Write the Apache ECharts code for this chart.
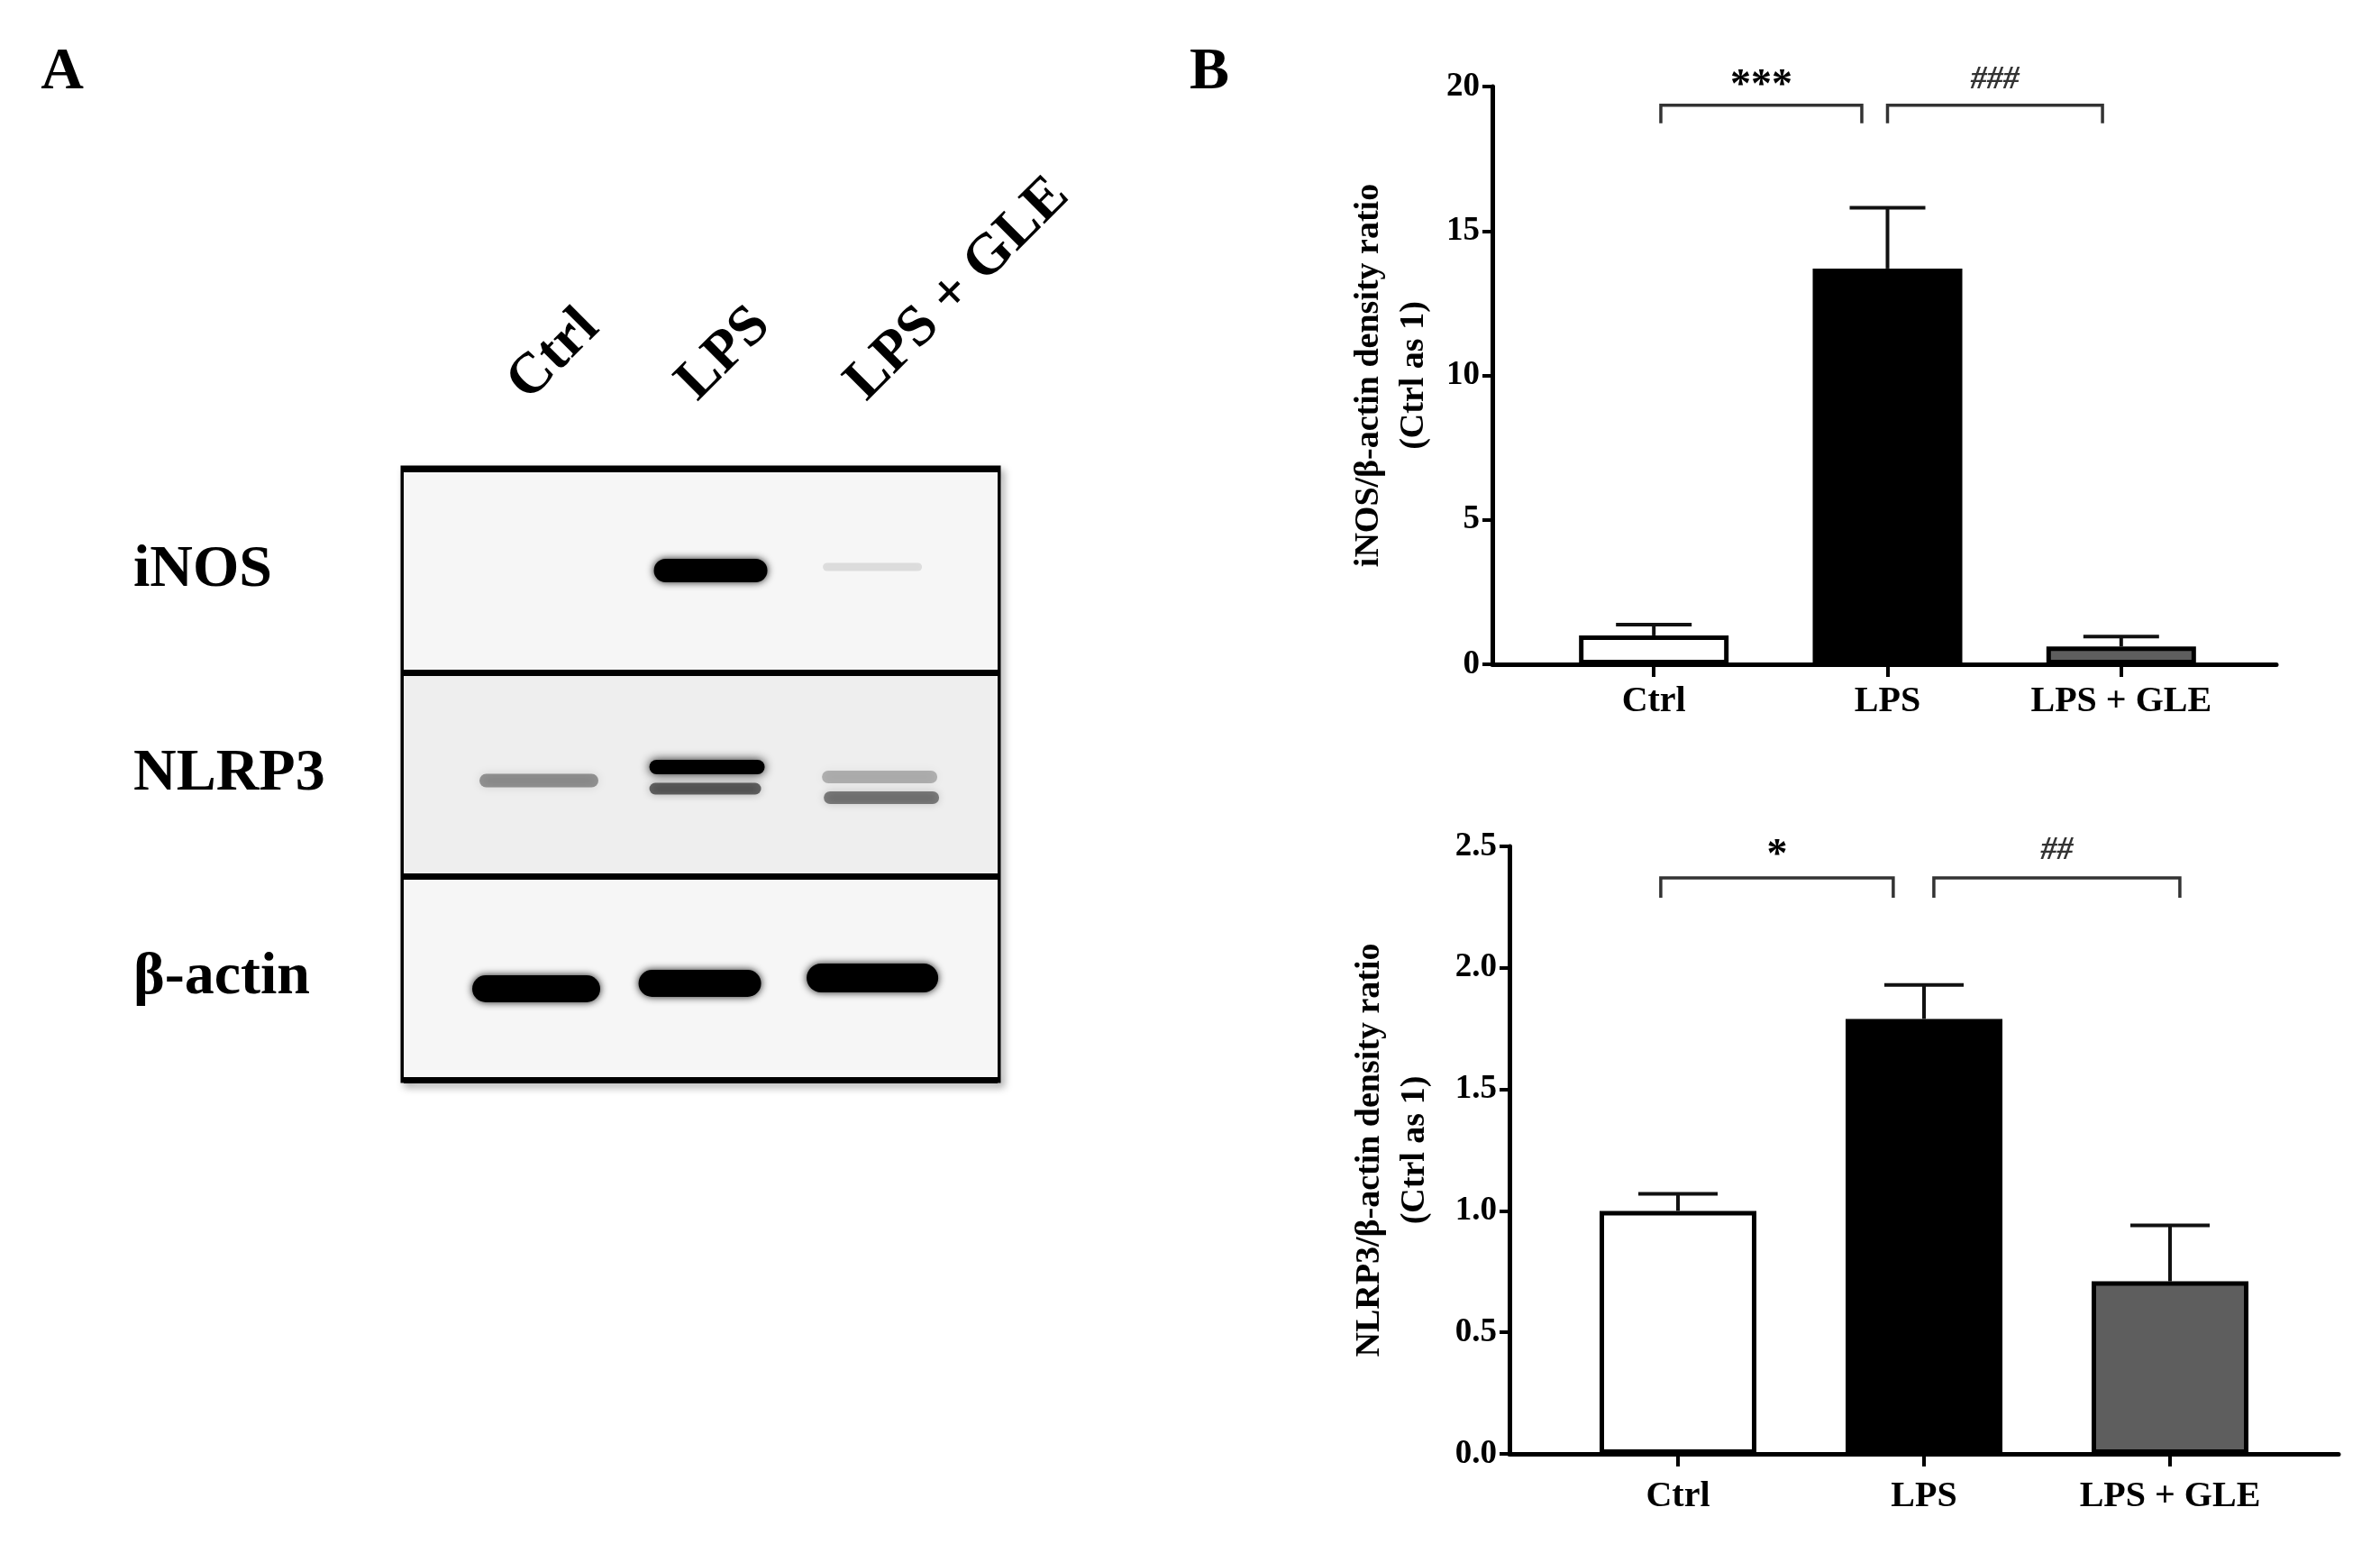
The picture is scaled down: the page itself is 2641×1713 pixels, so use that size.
<!DOCTYPE html>
<html><head><meta charset="utf-8">
<script src="https://cdn.jsdelivr.net/npm/echarts@6/dist/echarts.min.js"></script>
<style>html,body{margin:0;padding:0;background:#fff}#c{width:2641px;height:1713px}</style>
</head><body><div id="c"></div>
<script>
// ---------- DATA ----------
const groups = ['Ctrl', 'LPS', 'LPS + GLE'];
const groupPos = [1, 2, 3];
const inosMean = [1.0, 13.7, 0.62];
const inosSem = [0.37, 2.1, 0.34];
const nlrp3Mean = [1.0, 1.79, 0.71];
const nlrp3Sem = [0.07, 0.14, 0.23];
const inosTicks = [0, 5, 10, 15, 20];
const nlrp3Ticks = [0, 0.5, 1.0, 1.5, 2.0, 2.5];
// comparisons: [groupA index, groupB index, label]
const inosComparisons = [[0, 1, '***'], [1, 2, '###']];
const nlrp3Comparisons = [[0, 1, '*'], [1, 2, '##']];
// western blot
const proteins = ['iNOS', 'NLRP3', 'β-actin'];
const iNOSDensity = [0, 1.0, 0.1];
const nlrp3UpperDensity = [0.36, 1.0, 0.25];
const nlrp3LowerDensity = [0, 0.55, 0.45];
const actinDensity = [1.0, 1.0, 1.0];

// ---------- STYLE ----------
const FONT = '"Liberation Serif", "Times New Roman", serif';
const barColors = ['#ffffff', '#000000', '#5e5e5e'];
const bracketStyle = [
  { y: 19.35, insets: [[0.03, -0.11], [0.0, -0.08]], drop: 20 },
  { y: 2.37, insets: [[-0.07, -0.125], [0.04, 0.04]], drop: 22 }
];
const bandStyle = [
  { row: 0, w: [126, 126, 110], h: [26, 26, 9], dy: [0, 0, -4], dx: [0, 6, -2], blur: 8 },
  { row: 1, w: [132, 128, 128], h: [15, 16, 14], dy: [7, -8, 3], dx: [3, 2, 6], blur: 11 },
  { row: 1, w: [124, 124, 128], h: [13, 13, 14], dy: [0, 16, 26], dx: [0, 0, 8], blur: 10 },
  { row: 2, w: [142, 136, 146], h: [30, 30, 32], dy: [12, 6, 0], dx: [0, -6, -2], blur: 8 }
];
const densities = [iNOSDensity, nlrp3UpperDensity, nlrp3LowerDensity, actinDensity];

const chart = echarts.init(document.getElementById('c'), null, { renderer: 'canvas' });

function valueXAxis(gridIndex, min, max, margin) {
  return {
    type: 'value', gridIndex, min, max,
    axisLine: { show: true, onZero: false, lineStyle: { color: '#000', width: 5 } },
    axisTick: { show: true, customValues: groupPos, length: 14, lineStyle: { color: '#000', width: 4 } },
    axisLabel: { customValues: groupPos, formatter: v => groups[Math.round(v) - 1], margin,
      fontFamily: FONT, fontWeight: 'bold', fontSize: 40, color: '#000' },
    splitLine: { show: false }
  };
}
function valueYAxis(gridIndex, ticks, name, nameGap, fmt) {
  return {
    type: 'value', gridIndex, min: ticks[0], max: ticks[ticks.length - 1], interval: ticks[1] - ticks[0],
    axisLine: { show: true, lineStyle: { color: '#000', width: 5 } },
    axisTick: { show: true, length: 11, lineStyle: { color: '#000', width: 4 } },
    axisLabel: { margin: 14, fontFamily: FONT, fontWeight: 'bold', fontSize: 37, color: '#000', formatter: fmt },
    splitLine: { show: false },
    name, nameLocation: 'middle', nameRotate: 90, nameGap,
    nameTextStyle: { fontFamily: FONT, fontWeight: 'bold', fontSize: 38, lineHeight: 50, color: '#000' }
  };
}
function barSeries(idx, means, barWidth) {
  return {
    type: 'bar', xAxisIndex: idx, yAxisIndex: idx, barWidth, z: 2,
    data: groupPos.map((x, i) => ({ value: [x, means[i]], itemStyle: { color: barColors[i] } })),
    itemStyle: { borderColor: '#000', borderWidth: 5 }
  };
}
function errSeries(idx, means, sems, capHalf) {
  return {
    type: 'custom', xAxisIndex: idx, yAxisIndex: idx, z: 3,
    data: groupPos.map((x, i) => [x, means[i], sems[i]]),
    encode: { x: 0, y: 1 },
    renderItem: (params, api) => {
      const x = api.value(0), m = api.value(1), e = api.value(2);
      const p0 = api.coord([x, m]), p1 = api.coord([x, m + e]);
      return { type: 'group', children: [
        { type: 'line', shape: { x1: p0[0], y1: p0[1], x2: p1[0], y2: p1[1] }, style: { stroke: '#111', lineWidth: 4 } },
        { type: 'line', shape: { x1: p1[0] - capHalf, y1: p1[1], x2: p1[0] + capHalf, y2: p1[1] }, style: { stroke: '#111', lineWidth: 4 } }
      ] };
    }
  };
}
function bracketSeries(idx, comps, st, fonts) {
  return {
    type: 'custom', xAxisIndex: idx, yAxisIndex: idx, z: 4, clip: false,
    data: comps.map(c => [groupPos[c[0]], groupPos[c[1]]]),
    renderItem: (params, api) => {
      const k = params.dataIndex, c = comps[k];
      const x1 = api.value(0) + st.insets[k][0], x2 = api.value(1) + st.insets[k][1];
      const a = api.coord([x1, st.y]), b = api.coord([x2, st.y]);
      const f = fonts[k];
      return { type: 'group', children: [
        { type: 'polyline', shape: { points: [[a[0], a[1] + st.drop], a, b, [b[0], b[1] + st.drop]] },
          style: { stroke: '#333', lineWidth: 3.5, fill: null } },
        { type: 'text', x: (a[0] + b[0]) / 2, y: a[1] - f.off,
          style: { text: c[2], font: f.font, fill: f.color, textAlign: 'center', textVerticalAlign: 'middle' } }
      ] };
    }
  };
}

const bandData = [];
densities.forEach((arr, t) => arr.forEach((d, i) => { if (d > 0) bandData.push([groupPos[i], bandStyle[t].row, d, t, i]); }));

const option = {
  backgroundColor: '#ffffff',
  animation: false,
  grid: [
    { left: 1656, top: 96, width: 870, height: 641 },
    { left: 1675, top: 939, width: 920, height: 674 },
    { left: 448, top: 520, width: 659, height: 678, show: true, borderColor: '#000', borderWidth: 7,
      backgroundColor: 'transparent', shadowBlur: 8, shadowColor: 'rgba(0,0,0,0.35)', shadowOffsetX: 4, shadowOffsetY: 5 }
  ],
  xAxis: [
    valueXAxis(0, 0.309, 3.664, 22),
    valueXAxis(1, 0.315, 3.685, 28),
    { type: 'value', gridIndex: 2, min: 0.216, max: 3.73, show: false }
  ],
  yAxis: [
    valueYAxis(0, inosTicks, 'iNOS/β-actin density ratio\n(Ctrl as 1)', 62, v => String(v)),
    valueYAxis(1, nlrp3Ticks, 'NLRP3/β-actin density ratio\n(Ctrl as 1)', 80, v => v.toFixed(1)),
    { type: 'category', gridIndex: 2, data: proteins, inverse: true,
      axisLine: { show: false }, axisTick: { show: false },
      axisLabel: { align: 'left', margin: 300, fontFamily: FONT, fontWeight: 'bold', fontSize: 66, color: '#000' },
      splitLine: { show: true, lineStyle: { color: '#000', width: 7 } },
      splitArea: { show: true, areaStyle: { color: ['#f6f6f6', '#eeeeee'] } } }
  ],
  graphic: [
    { type: 'text', x: 69, y: 81, style: { text: 'A', font: 'bold 66px ' + FONT, fill: '#000', textAlign: 'center', textVerticalAlign: 'middle' } },
    { type: 'text', x: 1342, y: 81, style: { text: 'B', font: 'bold 66px ' + FONT, fill: '#000', textAlign: 'center', textVerticalAlign: 'middle' } }
  ],
  series: [
    barSeries(0, inosMean, 166),
    errSeries(0, inosMean, inosSem, 42),
    bracketSeries(0, inosComparisons, bracketStyle[0], [
      { font: 'bold 46px ' + FONT, off: 21, color: '#000' },
      { font: 'italic bold 36px ' + FONT, off: 28, color: '#333' }]),
    barSeries(1, nlrp3Mean, 174),
    errSeries(1, nlrp3Mean, nlrp3Sem, 44),
    bracketSeries(1, nlrp3Comparisons, bracketStyle[1], [
      { font: 'bold 46px ' + FONT, off: 24, color: '#000' },
      { font: 'italic bold 36px ' + FONT, off: 30, color: '#333' }]),
    { // western blot bands
      type: 'custom', xAxisIndex: 2, yAxisIndex: 2, z: 5,
      data: bandData,
      renderItem: (params, api) => {
        const lane = api.value(0), row = api.value(1), d = api.value(2), t = api.value(3), i = api.value(4);
        const s = bandStyle[t];
        const c = api.coord([lane, row]);
        const w = s.w[i], h = s.h[i];
        const cx = c[0] + s.dx[i], cy = c[1] + s.dy[i];
        return { type: 'rect', shape: { x: cx - w / 2, y: cy - h / 2, width: w, height: h, r: h / 2 },
          style: { fill: 'rgba(0,0,0,' + d + ')', shadowBlur: s.blur, shadowColor: 'rgba(0,0,0,' + d * 0.9 + ')' } };
      }
    },
    { // lane labels
      type: 'custom', xAxisIndex: 2, yAxisIndex: 2, z: 5, clip: false,
      data: groupPos.map(x => [x, 0]),
      renderItem: (params, api) => {
        const c = api.coord([api.value(0), 0]);
        return { type: 'text', x: c[0] + 2, y: params.coordSys.y - 63, rotation: Math.PI / 4,
          style: { text: groups[params.dataIndex], font: 'bold 64px ' + FONT, fill: '#000', textAlign: 'left', textVerticalAlign: 'bottom' } };
      }
    }
  ]
};
chart.setOption(option);
</script></body></html>
